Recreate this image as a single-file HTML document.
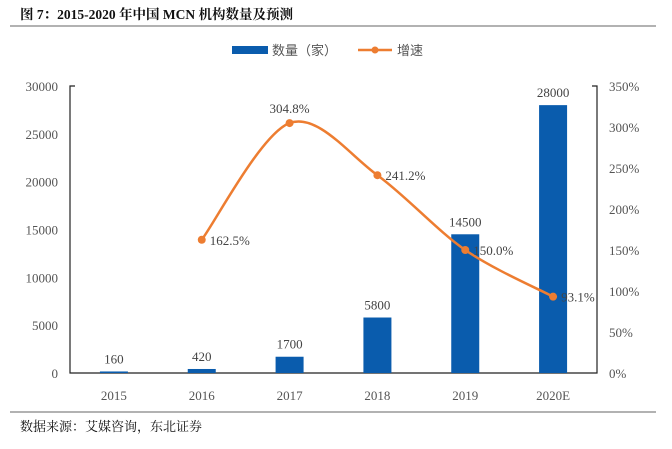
<!DOCTYPE html>
<html><head><meta charset="utf-8"><style>
body{margin:0;background:#fff;}
svg{display:block;font-family:"Liberation Serif","Noto Serif CJK SC",serif;}
</style></head><body>
<svg width="672" height="449">
<text x="20" y="19" font-size="13.5" font-weight="bold" fill="#111">图 7：2015-2020 年中国 MCN 机构数量及预测</text>
<line x1="10" y1="26" x2="656" y2="26" stroke="#999" stroke-width="1.5"/>
<g>
<rect x="232" y="46" width="36" height="8" fill="#0a5cad"/>
<text x="272" y="55" font-size="13" fill="#555" font-family="Liberation Sans,Noto Sans CJK SC,sans-serif">数量（家）</text>
<line x1="358" y1="50" x2="392" y2="50" stroke="#ed7d31" stroke-width="2.5"/>
<circle cx="375" cy="50" r="3.5" fill="#ed7d31"/>
<text x="397" y="55" font-size="13" fill="#555" font-family="Liberation Sans,Noto Sans CJK SC,sans-serif">增速</text>
</g>
<g id="axes"></g>
<g id="marks"></g>
<line x1="10" y1="412" x2="656" y2="412" stroke="#999" stroke-width="1.5"/>
<text x="20" y="431" font-size="13" fill="#111">数据来源：艾媒咨询，东北证券</text>
</svg>
<script>
const categories=["2015","2016","2017","2018","2019","2020E"];
const counts=[160,420,1700,5800,14500,28000];
const growth=[null,162.5,304.8,241.2,150.0,93.1];
const leftTicks=[0,5000,10000,15000,20000,25000,30000];
const rightTicks=[0,50,100,150,200,250,300,350];
const L=70,R=597,T=86,B=373;
const x=i=>L+(R-L)/categories.length*(i+0.5);
const yL=v=>B-(B-T)*v/30000;
const yR=v=>B-(B-T)*v/350;
const NS="http://www.w3.org/2000/svg";
const ax=document.getElementById("axes"),mk=document.getElementById("marks");
function mkEl(t,a,p,txt){const e=document.createElementNS(NS,t);for(const k in a)e.setAttribute(k,a[k]);if(txt!=null)e.textContent=txt;p.appendChild(e);return e;}
let e;
e=mkEl("path",{d:`M${L+5},${T} H${L} V${B} H${R} V${T} H${R-5}`,fill:"none",stroke:"#222","stroke-width":1.2},ax);


leftTicks.forEach(v=>{
 e=mkEl("text",{x:L-12,y:yL(v)+5,"text-anchor":"end","font-size":13,fill:"#555"},ax,String(v));
 
 
});
rightTicks.forEach(v=>{
 e=mkEl("text",{x:R+12,y:yR(v)+5,"font-size":13,fill:"#555"},ax,v+"%");
 
 
});
categories.forEach((c,i)=>{
 e=mkEl("text",{x:x(i),y:B+27,"text-anchor":"middle","font-size":13,fill:"#555"},ax,c);
 
 
});
counts.forEach((v,i)=>{
 e=mkEl("rect",{x:x(i)-14,y:yL(v),width:28,height:B-yL(v),fill:"#0a5cad"},mk);
 
 
 e=mkEl("text",{x:x(i),y:yL(v)-8,"text-anchor":"middle","font-size":13,fill:"#444"},mk,String(v));
 
 
});
const pts=[];growth.forEach((g,i)=>{if(g!=null)pts.push([x(i),yR(g)]);});
let d=`M${pts[0][0]},${pts[0][1]}`;
for(let i=0;i<pts.length-1;i++){
 const p0=pts[i-1]||pts[i],p1=pts[i],p2=pts[i+1],p3=pts[i+2]||p2,t=0.16;
 d+=` C${p1[0]+(p2[0]-p0[0])*t},${p1[1]+(p2[1]-p0[1])*t} ${p2[0]-(p3[0]-p1[0])*t},${p2[1]-(p3[1]-p1[1])*t} ${p2[0]},${p2[1]}`;
}
e=mkEl("path",{d:d,fill:"none",stroke:"#ed7d31","stroke-width":2.5},mk);


growth.forEach((g,i)=>{
 if(g==null)return;
 e=mkEl("circle",{cx:x(i),cy:yR(g),r:4,fill:"#ed7d31"},mk);
 
 
 const top=i==2;
 e=mkEl("text",{x:top?x(i):x(i)+8,y:top?yR(g)-10:yR(g)+5,"text-anchor":top?"middle":"start","font-size":13,fill:"#444"},mk,g.toFixed(1)+"%");
 
 
});
</script>
</body></html>
